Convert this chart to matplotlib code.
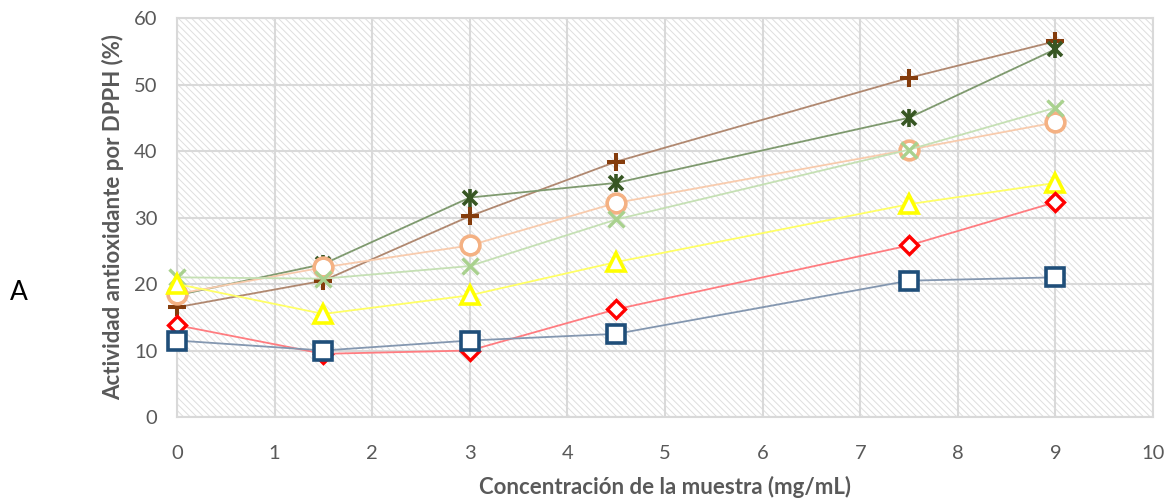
import matplotlib
matplotlib.use("Agg")
import matplotlib.pyplot as plt
from matplotlib.patches import Rectangle

plt.rcParams['font.family'] = ['Lato', 'DejaVu Sans']
plt.rcParams['hatch.color'] = '#dedede'
plt.rcParams['hatch.linewidth'] = 0.7

conc = [0, 1.5, 3, 4.5, 7.5, 9]
s_square = [11.5, 10.0, 11.5, 12.5, 20.5, 21.0]
s_diamond = [13.8, 9.5, 10.0, 16.2, 25.8, 32.3]
s_triangle = [20.0, 15.5, 18.3, 23.3, 32.0, 35.2]
s_x = [21.0, 20.8, 22.7, 29.7, 40.2, 46.5]
s_circle = [18.5, 22.5, 25.8, 32.2, 40.2, 44.3]
s_star = [18.3, 23.0, 33.0, 35.2, 45.0, 55.3]
s_plus = [16.5, 20.5, 30.2, 38.4, 51.0, 56.5]

xticks = [0, 1, 2, 3, 4, 5, 6, 7, 8, 9, 10]
yticks = [0, 10, 20, 30, 40, 50, 60]

fig = plt.figure(figsize=(11.7, 5.01), dpi=100)
ax = fig.add_axes([177/1170, 1-417/501, (1153-177)/1170, (417-18)/501])

ax.add_patch(Rectangle((0, 0), 1, 1, transform=ax.transAxes, facecolor='white',
                       edgecolor='#dedede', linewidth=0, hatch='\\\\\\\\\\', zorder=0))
ax.set_xlim(0, 10)
ax.set_ylim(0, 60)
ax.set_xticks(xticks)
ax.set_yticks(yticks)
ax.grid(True, color='#d9d9d9', lw=1.5, zorder=1)
ax.set_axisbelow(True)
for sp in ax.spines.values():
    sp.set_color('#d9d9d9')
    sp.set_linewidth(1.5)
ax.tick_params(length=0, labelsize=14.5, colors='#595959')
ax.tick_params(axis='x', pad=20)
ax.tick_params(axis='y', pad=14)

def series(y, col, lcol, marker, ms, mew, z):
    ax.plot(conc, y, color=lcol, lw=1.3, zorder=z, clip_on=False)
    ax.plot(conc, y, ls='none', marker=marker, ms=ms, mfc='white' if marker in ('s', 'D', '^', 'o') else col,
            mec=col, mew=mew, zorder=z + 0.5, clip_on=False)

series(s_square, '#1f4e79', '#8497b0', 's', 12.5, 2.6, 10)
series(s_diamond, '#ff0000', '#ff7c80', 'D', 9, 2.4, 9)
series(s_triangle, '#ffff00', '#ffff66', '^', 12.5, 2.6, 8)
series(s_x, '#a9d18e', '#c5e0b4', 'x', 11.5, 2.4, 7)
series(s_circle, '#f4b183', '#f8cbad', 'o', 13.5, 2.6, 6)
ax.plot(conc, s_star, color='#7f9a6f', lw=1.3, zorder=5, clip_on=False)
ax.plot(conc, s_star, ls='none', marker='x', ms=10.5, mec='#375623', mew=2.6, zorder=5.5, clip_on=False)
ax.plot(conc, s_star, ls='none', marker='|', ms=12.5, mec='#375623', mew=2.6, zorder=5.5, clip_on=False)
series(s_plus, '#843c0c', '#b08870', '+', 13.5, 2.9, 4)

ax.set_xlabel('Concentración de la muestra (mg/mL)', fontsize=16, fontweight='bold',
              color='#595959', labelpad=10)
ax.set_ylabel('Actividad antioxidante por DPPH (%)', fontsize=16, fontweight='bold',
              color='#595959', labelpad=7)
fig.text(10/1170, 1-292/501, 'A', fontsize=19, color='black', ha='left', va='center')

fig.savefig('out.png', dpi=100, facecolor='white')
